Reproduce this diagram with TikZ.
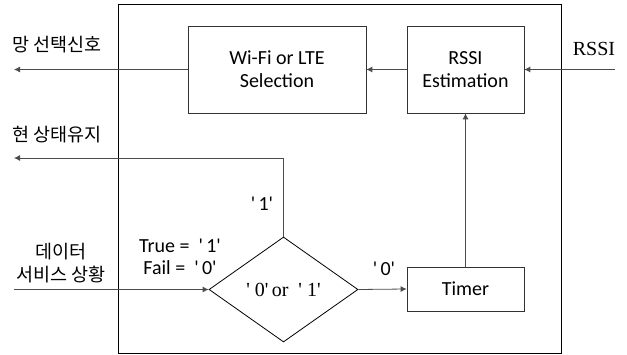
\documentclass[tikz,border=0pt]{standalone}
\usepackage{fontspec}
\setmainfont{Carlito}
\newfontfamily\kor{Noto Sans CJK KR}
\newfontfamily\serifx{Liberation Serif}
\usetikzlibrary{shapes.geometric,arrows.meta}
\newcommand{\q}{\textquotesingle}
\tikzset{
  blk/.style={draw=black!80, line width=0.7pt, inner sep=0pt, align=center, font=\fontsize{20}{23}\selectfont},
  conn/.style={draw=black!70, line width=0.8pt, -{Latex[length=6pt,width=6pt]}},
  lbl/.style={inner sep=0pt, align=center, font=\fontsize{20}{22}\selectfont},
  klbl/.style={inner sep=0pt, align=center, font=\kor\fontsize{18.5}{23}\selectfont},
}
\begin{document}
\begin{tikzpicture}[x=1pt,y=-1pt]
\useasboundingbox (0,0) rectangle (627,355);
\node[draw=black, line width=0.8pt, minimum width=443pt, minimum height=349pt, inner sep=0pt] (frame) at (339.5,179) {};
\node[blk, minimum width=178pt, minimum height=87pt] (wifi) at (277,69.5) {Wi-Fi or LTE\\Selection};
\node[blk, minimum width=117pt, minimum height=87pt] (rssi) at (465.5,69.5) {RSSI\\Estimation};
\node[blk, minimum width=117pt, minimum height=44pt] (timer) at (465.5,289) {Timer};
\node[draw=black, line width=0.8pt, shape=diamond, minimum width=149pt, minimum height=105pt, inner sep=0pt, font=\serifx\fontsize{20}{22}\selectfont] (dia) at (283.5,289.5) {\q\ 0\q\,or\ \ \q\ 1\q};
\coordinate (rssiin) at (615,69.5);
\coordinate (out1) at (14,69.5);
\coordinate (out2) at (14,158);
\coordinate (in1) at (14,289.5);
\draw[conn] (rssiin) -- (rssi.east);
\draw[conn] (rssi.west) -- (wifi.east);
\draw[conn] (wifi.west) -- (out1);
\draw[conn] (dia.north) |- (out2);
\draw[conn] (in1) -- (dia.west);
\draw[conn] (dia.east) -- (timer.west);
\draw[conn] (timer.north) -- (rssi.south);
\node[inner sep=0pt, font=\serifx\fontsize{20}{22}\selectfont] (rssilbl) at (594,49) {RSSI};
\node[klbl, anchor=west] (l1) at (12,45) {망 선택신호};
\node[klbl, anchor=west] (l2) at (12,135) {현 상태유지};
\node[klbl] (l3) at (61,263) {데이터\\서비스 상황};
\node[lbl] (l4) at (180,257) {True = \ \q\,1\q\\Fail = \ \q\,0\q};
\node[lbl] (l5) at (262,204) {\q\,1\q};
\node[lbl] (l6) at (384,269) {\q\,0\q};
\end{tikzpicture}
\end{document}
